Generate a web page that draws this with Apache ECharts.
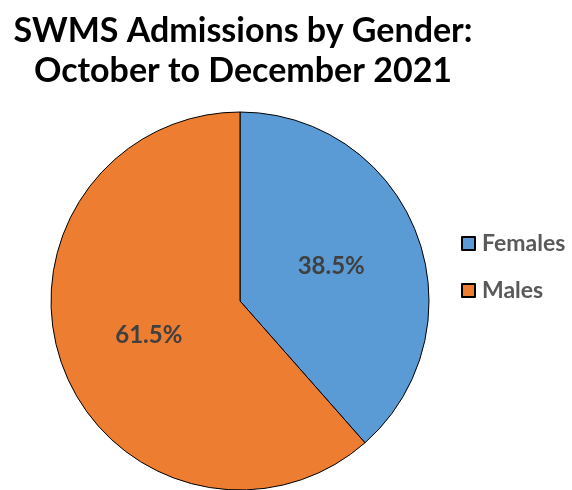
<!DOCTYPE html>
<html>
<head>
<meta charset="utf-8">
<script src="https://cdn.jsdelivr.net/npm/echarts@6/dist/echarts.min.js"></script>
<style>
  html, body { margin: 0; padding: 0; background: #fff; }
  #chart { width: 572px; height: 490px; }
</style>
</head>
<body>
<div id="chart"></div>
<script>
const categories = ['Females', 'Males']
const values = [38.5, 61.5]
const colors = ['#5B9BD5', '#ED7D31']

const chart = echarts.init(document.getElementById('chart'))
chart.setOption({
  backgroundColor: '#fff',
  animation: false,
  title: {
    text: 'SWMS Admissions by Gender:\nOctober to December 2021',
    left: 238,
    top: 6,
    textAlign: 'center',
    textStyle: {
      fontFamily: 'Lato',
      fontWeight: 'bold',
      fontSize: 34,
      lineHeight: 40,
      color: '#000',
    },
  },
  legend: {
    orient: 'vertical',
    left: 456,
    top: 227,
    itemWidth: 13,
    itemHeight: 13,
    itemGap: 24,
    icon: 'rect',
    data: categories,
    textStyle: { fontFamily: 'Lato', fontWeight: 'bold', fontSize: 23, color: '#595959', padding: [0, 0, 0, 2] },
  },
  series: [{
    type: 'pie',
    center: [240, 301],
    radius: [0, 189],
    startAngle: 90,
    clockwise: true,
    data: categories.map((name, i) => ({ name, value: values[i], itemStyle: { color: colors[i] } })),
    itemStyle: { borderColor: '#000', borderWidth: 1 },
    label: {
      position: 'inside',
      formatter: (p) => p.value.toFixed(1) + '%',
      fontFamily: 'Lato',
      fontWeight: 'bold',
      fontSize: 24,
      color: '#404040',
    },
    labelLine: { show: false },
    emphasis: { disabled: true },
  }],
})
</script>
</body>
</html>
